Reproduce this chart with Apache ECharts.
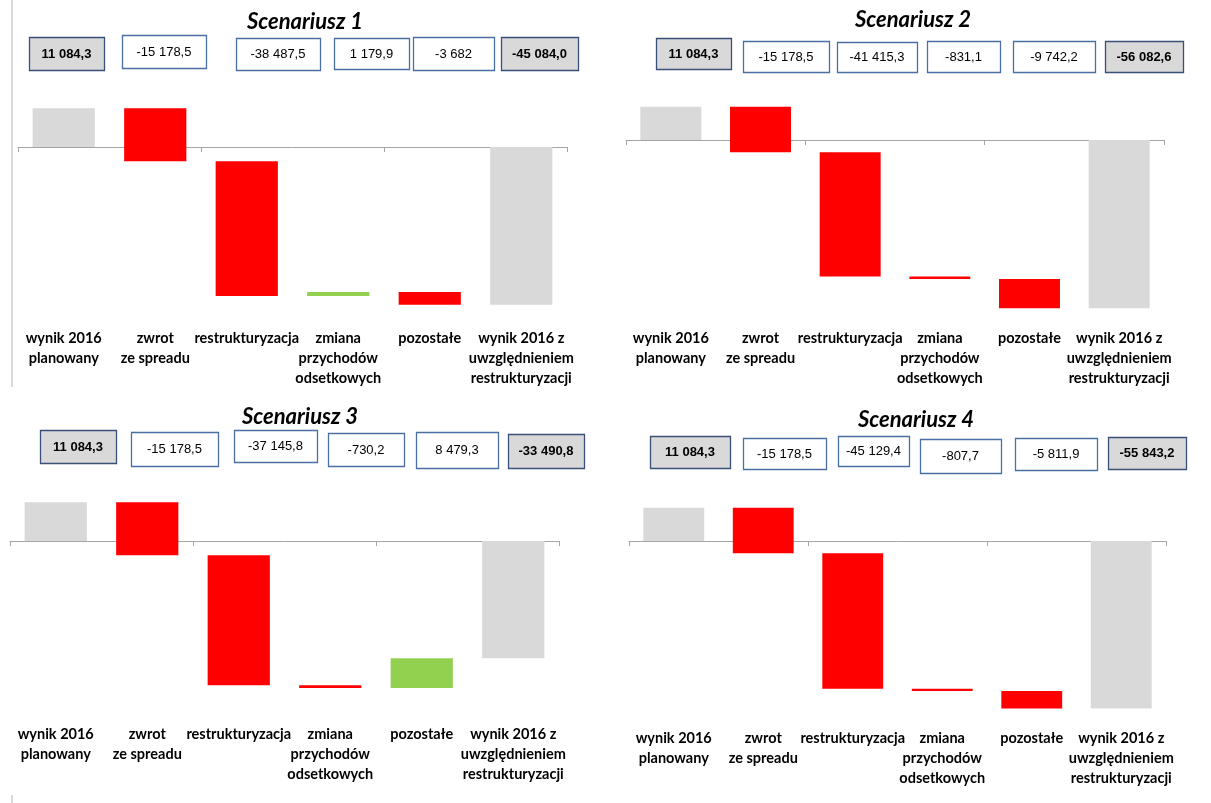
<!DOCTYPE html>
<html>
<head>
<meta charset="utf-8">
<script src="https://cdn.jsdelivr.net/npm/echarts@6/dist/echarts.min.js"></script>
<style>
  html, body { margin: 0; padding: 0; background: #ffffff; }
  #chart { width: 1211px; height: 803px; }
</style>
</head>
<body>
<div id="chart"></div>
<script>
// Categories shared by all four waterfalls
const categories = [
  'wynik 2016\nplanowany',
  'zwrot\nze spreadu',
  'restrukturyzacja',
  'zmiana\nprzychodów\nodsetkowych',
  'pozostałe',
  'wynik 2016 z\nuwzględnieniem\nrestrukturyzacji'
];

const scenarioTitles = ['Scenariusz 1', 'Scenariusz 2', 'Scenariusz 3', 'Scenariusz 4'];

// First and last entries are totals, the rest are changes
const values1 = [11084.3, -15178.5, -38487.5, 1179.9, -3682, -45084.0];
const values2 = [11084.3, -15178.5, -41415.3, -831.1, -9742.2, -56082.6];
const values3 = [11084.3, -15178.5, -37145.8, -730.2, 8479.3, -33490.8];
const values4 = [11084.3, -15178.5, -45129.4, -807.7, -5811.9, -55843.2];

// Text shown in the value boxes
const boxText1 = ['11 084,3', '-15 178,5', '-38 487,5', '1 179,9', '-3 682', '-45 084,0'];
const boxText2 = ['11 084,3', '-15 178,5', '-41 415,3', '-831,1', '-9 742,2', '-56 082,6'];
const boxText3 = ['11 084,3', '-15 178,5', '-37 145,8', '-730,2', '8 479,3', '-33 490,8'];
const boxText4 = ['11 084,3', '-15 178,5', '-45 129,4', '-807,7', '-5 811,9', '-55 843,2'];

const allValues = [values1, values2, values3, values4];
const allBoxText = [boxText1, boxText2, boxText3, boxText4];

// Panel layout: plot area, value range and label spacing
const panels = [
  { left: 18,  width: 549, top: 105, height: 203, min: -46000, max: 12000, labelMargin: 20, title: [305, 22] },
  { left: 626, width: 538, top: 104, height: 207, min: -57000, max: 12000, labelMargin: 17, title: [913, 20] },
  { left: 10,  width: 549, top: 499, height: 203, min: -46000, max: 12000, labelMargin: 22, title: [300, 417] },
  { left: 629, width: 537, top: 505, height: 207, min: -57000, max: 12000, labelMargin: 16, title: [916, 420] }
];

// Value box rectangles [x0, x1, y0, y1]
const boxRects = [
  [[29,104,37,70],[122,206,35,68],[236,320,38,70],[334,409,38,69],[413,494,37,70],[501,578,37,70]],
  [[656,731,38,69],[743,829,41,72],[837,917,42,72],[927,1000,41,72],[1013,1095,41,72],[1105,1183,41,72]],
  [[40,116,430,463],[131,218,432,466],[234,317,430,462],[328,404,433,466],[416,498,432,468],[508,584,434,468]],
  [[650,730,436,468],[743,826,438,469],[838,909,436,466],[920,1001,439,473],[1015,1097,438,470],[1108,1186,437,469]]
];

const COLOR_TOTAL = '#d9d9d9';
const COLOR_DOWN = '#ff0000';
const COLOR_UP = '#92d050';

// Turn totals + changes into floating [low, high] segments
function waterfallData(vals) {
  const out = [];
  let running = 0;
  vals.forEach(function (v, i) {
    let a, b, color;
    if (i === 0 || i === vals.length - 1) {
      a = 0; b = v; color = COLOR_TOTAL;
      running = v;
    } else {
      a = running; b = running + v;
      color = v < 0 ? COLOR_DOWN : COLOR_UP;
      running = b;
    }
    out.push({ value: [i, Math.min(a, b), Math.max(a, b)], itemStyle: { color: color } });
  });
  return out;
}

function renderBar(params, api) {
  const x = api.value(0);
  const top = api.coord([x, api.value(2)]);
  const bottom = api.coord([x, api.value(1)]);
  const w = api.size([1, 0])[0] * 0.68;
  return {
    type: 'rect',
    shape: { x: top[0] - w / 2, y: top[1], width: w, height: Math.max(bottom[1] - top[1], 1.5) },
    style: { fill: api.visual('color') }
  };
}

const grids = [], xAxes = [], yAxes = [], series = [], graphics = [];

panels.forEach(function (p, k) {
  grids.push({ left: p.left, top: p.top, width: p.width, height: p.height });

  // axis line with ticks at zero
  xAxes.push({
    type: 'category', gridIndex: k, data: categories,
    axisLine: { onZero: true, lineStyle: { color: '#a6a6a6', width: 1 } },
    axisTick: { show: true, length: 5, lineStyle: { color: '#a6a6a6' } },
    axisLabel: { show: false },
    splitLine: { show: false }
  });
  // category labels below the plot
  xAxes.push({
    type: 'category', gridIndex: k, data: categories, position: 'bottom',
    axisLine: { show: false, onZero: false },
    axisTick: { show: false },
    axisLabel: {
      interval: 0, margin: p.labelMargin, hideOverlap: false,
      fontFamily: 'Lato', fontWeight: 'bold', fontSize: 14.5, lineHeight: 20, color: '#000000'
    }
  });
  yAxes.push({ type: 'value', gridIndex: k, min: p.min, max: p.max, show: false, splitLine: { show: false } });

  series.push({
    type: 'custom', xAxisIndex: 2 * k, yAxisIndex: k,
    renderItem: renderBar,
    encode: { x: 0, y: [1, 2] },
    data: waterfallData(allValues[k]),
    silent: true
  });

  graphics.push({
    type: 'text', x: p.title[0], y: p.title[1],
    style: {
      text: scenarioTitles[k], fontFamily: 'Lato', fontWeight: 'bold', fontStyle: 'italic',
      fontSize: 22, fill: '#000000', align: 'center', verticalAlign: 'middle'
    }
  });

  boxRects[k].forEach(function (r, i) {
    const total = (i === 0 || i === boxRects[k].length - 1);
    graphics.push({
      type: 'rect',
      shape: { x: r[0] + 0.5, y: r[2] + 0.5, width: r[1] - r[0], height: r[3] - r[2] },
      style: { fill: total ? '#d9d9d9' : '#ffffff', stroke: total ? '#3b5078' : '#4a6fa5', lineWidth: 1.3 }
    });
    graphics.push({
      type: 'text', x: (r[0] + r[1]) / 2, y: (r[2] + r[3]) / 2 + 0.5,
      style: {
        text: allBoxText[k][i], fontFamily: 'Liberation Sans, Arial', fontSize: 13,
        fontWeight: total ? 'bold' : 'normal', fill: '#000000', align: 'center', verticalAlign: 'middle'
      }
    });
  });
});

// thin page border on the left
graphics.push({ type: 'line', shape: { x1: 12, y1: 0, x2: 12, y2: 387 }, style: { stroke: '#d9d9d9', lineWidth: 2 } });
graphics.push({ type: 'line', shape: { x1: 12, y1: 795, x2: 12, y2: 803 }, style: { stroke: '#d9d9d9', lineWidth: 2 } });

const chart = echarts.init(document.getElementById('chart'), null, { renderer: 'canvas' });
chart.setOption({
  animation: false,
  backgroundColor: '#ffffff',
  grid: grids,
  xAxis: xAxes,
  yAxis: yAxes,
  series: series,
  graphic: graphics
});
</script>
</body>
</html>
